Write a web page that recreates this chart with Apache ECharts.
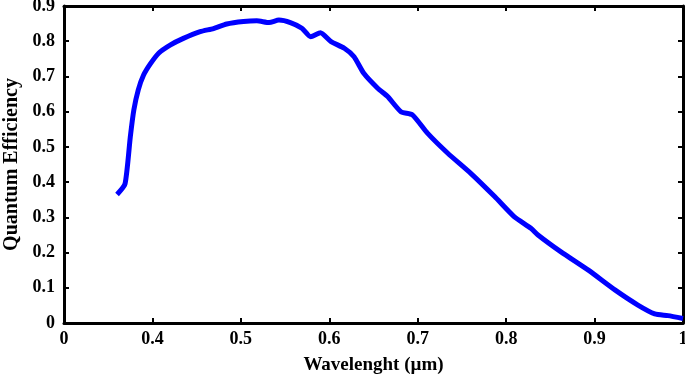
<!DOCTYPE html>
<html>
<head>
<meta charset="utf-8">
<script src="https://cdn.jsdelivr.net/npm/echarts@6/dist/echarts.min.js"></script>
<style>
  html, body { margin: 0; padding: 0; background: #fff; }
  #chart { width: 685px; height: 378px; }
</style>
</head>
<body>
<div id="chart"></div>
<script>
// wavelength (um) and quantum efficiency
var wavelength = [0.360, 0.369, 0.375, 0.379, 0.384, 0.390, 0.398, 0.407, 0.420, 0.435, 0.454, 0.469, 0.484, 0.503, 0.518, 0.532, 0.543, 0.556, 0.569, 0.579, 0.590, 0.602, 0.617, 0.628, 0.639, 0.655, 0.666, 0.681, 0.694, 0.711, 0.734, 0.760, 0.787, 0.809, 0.828, 0.836, 0.862, 0.893, 0.923, 0.949, 0.968, 0.983, 1.000];
var efficiency = [0.365, 0.395, 0.529, 0.605, 0.662, 0.704, 0.737, 0.766, 0.789, 0.808, 0.827, 0.836, 0.849, 0.856, 0.858, 0.853, 0.860, 0.853, 0.837, 0.813, 0.824, 0.799, 0.780, 0.756, 0.709, 0.666, 0.643, 0.600, 0.591, 0.539, 0.482, 0.425, 0.359, 0.302, 0.269, 0.250, 0.202, 0.150, 0.094, 0.051, 0.026, 0.021, 0.013];

var points = [];
for (var i = 0; i < wavelength.length; i++) {
    points.push([wavelength[i], efficiency[i]]);
}

var txt = { fontFamily: 'Liberation Serif', fontWeight: 'bold', fontSize: 18, color: '#000' };
var line = { show: true, onZero: false, lineStyle: { color: '#000', width: 3 } };
var tick = { show: true, inside: true, length: 5, lineStyle: { color: '#000', width: 2 } };

var chart = echarts.init(document.getElementById('chart'));
chart.setOption({
    animation: false,
    grid: { left: 64, right: 2, top: 6, bottom: 55, containLabel: false, outerBoundsMode: 'none' },
    xAxis: [{
        type: 'value', min: 0.3, max: 1, interval: 0.1,
        name: 'Wavelenght (\u00b5m)', nameLocation: 'middle', nameGap: 33,
        nameTextStyle: Object.assign({}, txt, { fontSize: 19 }),
        axisLine: line, axisTick: tick, splitLine: { show: false },
        axisLabel: Object.assign({ margin: 7, showMinLabel: true, showMaxLabel: true,
            formatter: function (v) {
                if (Math.abs(v - 0.3) < 1e-6) return '0';
                if (Math.abs(v - 1) < 1e-6) return '1';
                return v.toFixed(1);
            } }, txt)
    }, {
        type: 'value', position: 'top', min: 0.3, max: 1, interval: 0.1,
        axisLine: line, axisTick: tick, axisLabel: { show: false }, splitLine: { show: false }
    }],
    yAxis: [{
        type: 'value', min: 0, max: 0.9, interval: 0.1,
        name: 'Quantum Efficiency', nameLocation: 'middle', nameGap: 41,
        nameTextStyle: Object.assign({}, txt, { fontSize: 20 }),
        axisLine: line, axisTick: tick, splitLine: { show: false },
        axisLabel: Object.assign({ margin: 9,
            formatter: function (v) { return v === 0 ? '0' : v.toFixed(1); } }, txt)
    }, {
        type: 'value', position: 'right', min: 0, max: 0.9, interval: 0.1,
        axisLine: line, axisTick: tick, axisLabel: { show: false }, splitLine: { show: false }
    }],
    series: [{
        type: 'line',
        data: points,
        showSymbol: false,
        smooth: 0.2,
        lineStyle: { color: '#0000ff', width: 5 }
    }]
});
</script>
</body>
</html>
